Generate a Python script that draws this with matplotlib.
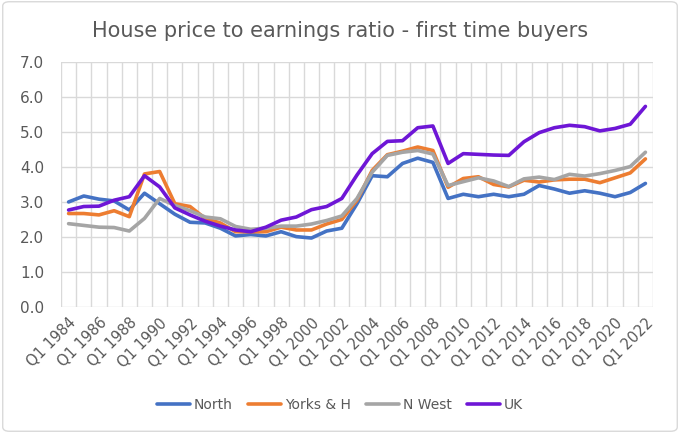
import numpy as np
import matplotlib.pyplot as plt
from matplotlib.patches import FancyBboxPatch

years = list(range(1984, 2023))
labels = [f"Q1 {y}" for y in years]

north = [3.00, 3.17, 3.08, 3.03, 2.77, 3.25, 2.95, 2.65, 2.42, 2.40,
         2.25, 2.03, 2.07, 2.03, 2.15, 2.01, 1.97, 2.17, 2.25, 2.95,
         3.75, 3.72, 4.10, 4.25, 4.13, 3.10, 3.22, 3.15, 3.22, 3.15,
         3.22, 3.47, 3.37, 3.25, 3.32, 3.25, 3.15, 3.27, 3.53]
yorks = [2.67, 2.67, 2.63, 2.75, 2.58, 3.80, 3.87, 2.95, 2.87, 2.53,
         2.40, 2.15, 2.15, 2.15, 2.28, 2.20, 2.20, 2.37, 2.50, 3.05,
         3.90, 4.35, 4.45, 4.57, 4.47, 3.42, 3.67, 3.72, 3.50, 3.43,
         3.62, 3.57, 3.63, 3.65, 3.65, 3.55, 3.69, 3.83, 4.23]
nwest = [2.38, 2.33, 2.28, 2.27, 2.17, 2.53, 3.10, 2.90, 2.75, 2.57,
         2.52, 2.30, 2.22, 2.25, 2.31, 2.31, 2.37, 2.47, 2.60, 3.10,
         3.85, 4.33, 4.42, 4.47, 4.37, 3.47, 3.58, 3.69, 3.60, 3.44,
         3.66, 3.71, 3.64, 3.79, 3.74, 3.81, 3.90, 4.01, 4.42]
uk = [2.77, 2.87, 2.88, 3.05, 3.15, 3.75, 3.43, 2.83, 2.63, 2.45,
      2.31, 2.20, 2.15, 2.28, 2.48, 2.57, 2.78, 2.87, 3.10, 3.77,
      4.38, 4.73, 4.75, 5.12, 5.17, 4.10, 4.38, 4.36, 4.34, 4.33,
      4.72, 4.98, 5.12, 5.19, 5.15, 5.03, 5.10, 5.22, 5.73]

series = [("North", north, "#4472C4"),
          ("Yorks & H", yorks, "#ED7D31"),
          ("N West", nwest, "#A5A5A5"),
          ("UK", uk, "#6E16D6")]

txt = "#595959"
grid = "#D9D9D9"

fig = plt.figure(figsize=(6.8, 4.33), dpi=100)
fig.patches.append(FancyBboxPatch((0.004, 0.004), 0.992, 0.992,
                                  boxstyle="round,pad=0,rounding_size=0.01",
                                  transform=fig.transFigure, fill=False,
                                  edgecolor="#D9D9D9", linewidth=1))
ax = fig.add_axes([0.0897, 0.291, 0.8706, 0.566])

x = np.arange(len(years))
for name, vals, col in series:
    ax.plot(x, vals, color=col, linewidth=2.6, label=name, solid_capstyle="round")

ax.set_xlim(-0.5, len(years) - 0.5)
ax.set_ylim(0, 7)
ax.set_yticks(np.arange(0, 7.5, 1.0))
ax.set_yticklabels([f"{v:.1f}" for v in np.arange(0, 7.5, 1.0)], fontsize=11, color=txt)

# excel style: a gridline on every category boundary
for b in np.arange(-0.5, len(years), 1.0):
    ax.axvline(b, color=grid, linewidth=1, zorder=0)
for v in range(8):
    ax.axhline(v, color=grid, linewidth=1, zorder=0)

ax.set_xticks(x[::2])
ax.set_xticklabels(labels[::2], rotation=45, ha="right", rotation_mode="anchor",
                   fontsize=10.5, color=txt)
ax.tick_params(axis="both", length=0)
ax.tick_params(axis="y", pad=12)
ax.tick_params(axis="x", pad=6)
for s in ax.spines.values():
    s.set_visible(False)

fig.text(0.5, 0.928, "House price to earnings ratio - first time buyers",
         ha="center", va="center", fontsize=15, color=txt)

fig.legend(loc="center", bbox_to_anchor=(0.5, 0.065), ncol=4, frameon=False,
           fontsize=10, labelcolor=txt, handlelength=2.4, handletextpad=0.25,
           columnspacing=1.1)

fig.savefig("out.png", dpi=100)
